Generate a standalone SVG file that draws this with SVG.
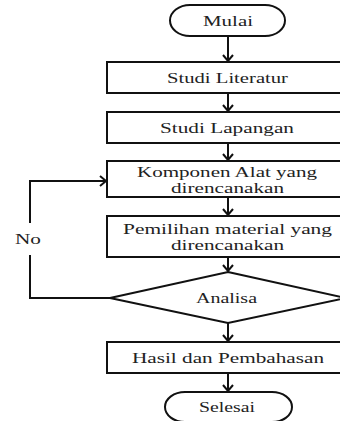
<svg xmlns="http://www.w3.org/2000/svg" width="340" height="421" viewBox="0 0 340 421">
<style>
.s{fill:#fff;stroke:#111;stroke-width:2}
.t{font-family:"Liberation Serif","Times New Roman",serif;font-size:15px;fill:#222;text-anchor:middle}
.c{fill:none;stroke:#111;stroke-width:2}
</style>
<defs>
<marker id="ah" markerWidth="12" markerHeight="12" refX="9" refY="6" orient="auto" markerUnits="userSpaceOnUse">
<path d="M3,1 L9,6 L3,11" fill="none" stroke="#111" stroke-width="2"/>
</marker>
</defs>
<rect width="340" height="421" fill="#fff"/>
<g id="connectors">
<line class="c" x1="228" y1="36" x2="228" y2="61" marker-end="url(#ah)"/>
<line class="c" x1="228" y1="93" x2="228" y2="111" marker-end="url(#ah)"/>
<line class="c" x1="228" y1="143" x2="228" y2="160" marker-end="url(#ah)"/>
<line class="c" x1="228" y1="197" x2="228" y2="215" marker-end="url(#ah)"/>
<line class="c" x1="228" y1="257" x2="228" y2="271" marker-end="url(#ah)"/>
<line class="c" x1="228" y1="323" x2="228" y2="341" marker-end="url(#ah)"/>
<line class="c" x1="228" y1="373" x2="228" y2="391" marker-end="url(#ah)"/>
<polyline class="c" points="110,298 30,298 30,255"/>
<polyline class="c" points="30,223 30,181 106,181" marker-end="url(#ah)"/>
<text class="t" x="28" y="244" textLength="26" lengthAdjust="spacingAndGlyphs">No</text>
</g>
<g id="mulai">
<rect class="s" x="170" y="5" width="115" height="31" rx="20" ry="15.5"/>
<text class="t" x="228" y="26" textLength="50" lengthAdjust="spacingAndGlyphs">Mulai</text>
</g>
<g id="studi-literatur">
<rect class="s" x="107" y="62" width="245" height="31"/>
<text class="t" x="227.5" y="83" textLength="121" lengthAdjust="spacingAndGlyphs">Studi Literatur</text>
</g>
<g id="studi-lapangan">
<rect class="s" x="107" y="112" width="245" height="31"/>
<text class="t" x="227" y="133" textLength="134" lengthAdjust="spacingAndGlyphs">Studi Lapangan</text>
</g>
<g id="komponen">
<rect class="s" x="107" y="161" width="245" height="36"/>
<text class="t" x="227" y="177" textLength="180" lengthAdjust="spacingAndGlyphs">Komponen Alat yang</text>
<text class="t" x="227.5" y="193" textLength="113" lengthAdjust="spacingAndGlyphs">direncanakan</text>
</g>
<g id="pemilihan">
<rect class="s" x="107" y="216" width="245" height="41"/>
<text class="t" x="227.5" y="234" textLength="209" lengthAdjust="spacingAndGlyphs">Pemilihan material yang</text>
<text class="t" x="227.5" y="250" textLength="113" lengthAdjust="spacingAndGlyphs">direncanakan</text>
</g>
<g id="analisa">
<polygon class="s" points="228,272 346,298 228,323 110,298"/>
<text class="t" x="226.5" y="303" textLength="61" lengthAdjust="spacingAndGlyphs">Analisa</text>
</g>
<g id="hasil">
<rect class="s" x="107" y="342" width="245" height="31"/>
<text class="t" x="228" y="363" textLength="192" lengthAdjust="spacingAndGlyphs">Hasil dan Pembahasan</text>
</g>
<g id="selesai">
<rect class="s" x="165" y="392" width="127" height="30" rx="20" ry="15"/>
<text class="t" x="227" y="412" textLength="56" lengthAdjust="spacingAndGlyphs">Selesai</text>
</g>
</svg>
